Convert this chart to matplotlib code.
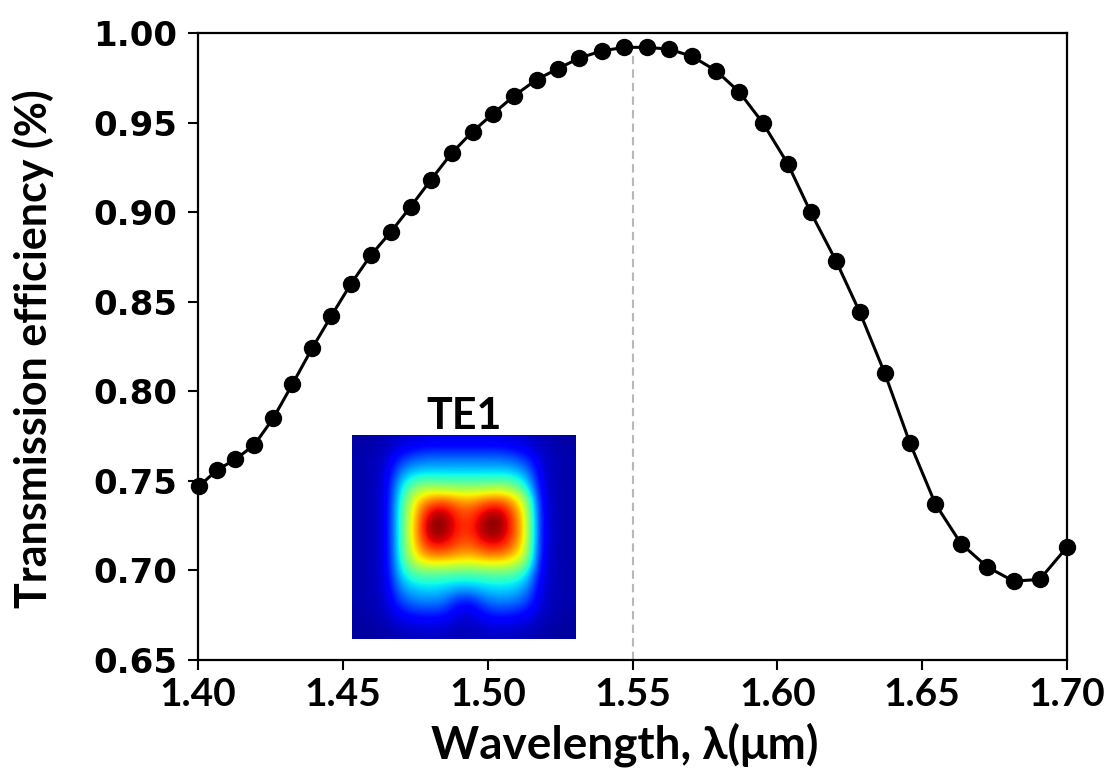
import numpy as np
import matplotlib
matplotlib.use('Agg')
import matplotlib.pyplot as plt

# wavelength points (um) and transmission
wl = [1.4004, 1.4065, 1.4129, 1.4194, 1.4260, 1.4326, 1.4394, 1.4460, 1.4528, 1.4597,
      1.4666, 1.4734, 1.4804, 1.4876, 1.4948, 1.5019, 1.5092, 1.5169, 1.5242, 1.5316,
      1.5394, 1.5472, 1.5549, 1.5626, 1.5705, 1.5788, 1.5869, 1.5949, 1.6036, 1.6115,
      1.6202, 1.6285, 1.6371, 1.6458, 1.6546, 1.6634, 1.6724, 1.6816, 1.6906, 1.7000]
trans = [0.747, 0.756, 0.762, 0.770, 0.785, 0.804, 0.824, 0.842, 0.860, 0.876,
         0.889, 0.903, 0.918, 0.933, 0.945, 0.955, 0.965, 0.974, 0.980, 0.986,
         0.990, 0.992, 0.992, 0.991, 0.987, 0.979, 0.967, 0.950, 0.927, 0.900,
         0.873, 0.844, 0.810, 0.771, 0.737, 0.715, 0.702, 0.694, 0.695, 0.713]

xticks = [1.40, 1.45, 1.50, 1.55, 1.60, 1.65, 1.70]
yticks = [0.65, 0.70, 0.75, 0.80, 0.85, 0.90, 0.95, 1.00]
center_wl = 1.55

# coarse TE1 mode intensity map (rows top->bottom), estimated from the inset
mode = np.array([
    [.03, .04, .05, .07, .08, .09, .09, .09, .09, .09, .09, .08, .07, .05, .04, .03],
    [.04, .05, .07, .15, .20, .22, .22, .22, .22, .22, .22, .20, .15, .07, .05, .04],
    [.04, .05, .08, .26, .32, .33, .33, .33, .33, .33, .33, .32, .26, .08, .05, .04],
    [.04, .05, .09, .35, .50, .52, .50, .50, .50, .50, .52, .50, .37, .09, .05, .04],
    [.04, .05, .09, .40, .66, .78, .82, .76, .74, .80, .82, .74, .55, .10, .05, .04],
    [.04, .05, .09, .42, .70, .95, 1.0, .86, .84, .96, 1.0, .84, .60, .11, .05, .04],
    [.04, .05, .09, .42, .72, 1.0, 1.0, .88, .86, 1.0, 1.0, .86, .62, .11, .05, .04],
    [.04, .05, .09, .42, .70, .90, .92, .83, .81, .90, .92, .81, .60, .11, .05, .04],
    [.04, .05, .09, .40, .64, .72, .72, .70, .68, .72, .72, .68, .55, .10, .05, .04],
    [.04, .05, .09, .35, .45, .46, .45, .44, .44, .45, .46, .45, .37, .09, .05, .04],
    [.04, .05, .08, .27, .33, .34, .33, .30, .30, .33, .34, .33, .27, .08, .05, .04],
    [.04, .05, .07, .19, .24, .25, .24, .14, .12, .22, .25, .24, .19, .07, .05, .04],
    [.03, .04, .06, .10, .12, .13, .12, .08, .07, .11, .13, .12, .10, .06, .04, .03],
    [.03, .03, .04, .05, .06, .06, .06, .05, .05, .06, .06, .06, .05, .04, .03, .03],
])

tick_font = ['Lato', 'DejaVu Sans']

fig = plt.figure(figsize=(11.14, 7.68), dpi=100)
ax = fig.add_axes([198/1114, 1 - 660/768, 869/1114, 627/768])

ax.vlines(center_wl, 0.65, 0.989, colors='#b8b8b8', linewidth=1.5, linestyles=(0, (4, 2.5)), zorder=1)
ax.plot(wl, trans, color='black', linewidth=2.2, marker='o', markersize=11.5, zorder=3, clip_on=False)

ax.set_xlim(1.40, 1.70)
ax.set_ylim(0.65, 1.00)
ax.set_xticks(xticks)
ax.set_yticks(yticks)
ax.set_xticklabels([f'{v:.2f}' for v in xticks], fontsize=28, fontweight='bold', family=tick_font)
ax.set_yticklabels([f'{v:.2f}' for v in yticks], fontsize=24.5, fontweight='bold', family='DejaVu Sans')
ax.tick_params(axis='both', direction='out', length=7, width=1.5, color='black')
ax.tick_params(axis='x', pad=5)
ax.tick_params(axis='y', pad=8)
for s in ax.spines.values():
    s.set_linewidth(1.6)

ax.set_xlabel('Wavelength, λ(μm)', fontsize=33, fontweight='bold', family=tick_font)
ax.set_ylabel('Transmission efficiency (%)', fontsize=31, fontweight='bold', family=tick_font)
ax.xaxis.set_label_coords(0.491, -0.100)
ax.yaxis.set_label_coords(-0.166, 0.497)

# inset mode profile
ins = fig.add_axes([352/1114, 1 - 639/768, 224/1114, 204/768])
ins.imshow(mode, cmap='jet', vmin=0, vmax=1, aspect='auto', interpolation='bicubic')
ins.axis('off')
fig.text(464/1114, 1 - 429/768, 'TE1', fontsize=31, fontweight='bold', family=tick_font,
         ha='center', va='baseline')

plt.savefig('out.png', dpi=100)
